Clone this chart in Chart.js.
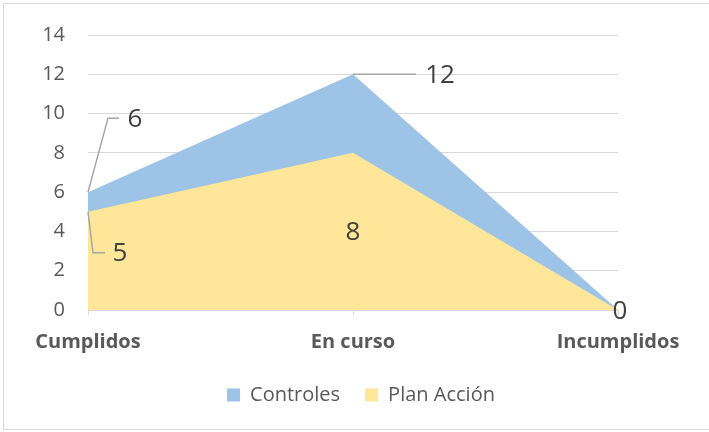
<!DOCTYPE html>
<html>
<head>
<meta charset="utf-8">
<script src="https://cdn.jsdelivr.net/npm/chart.js@4.4.1/dist/chart.umd.min.js"></script>
<style>
  html, body { margin: 0; padding: 0; background: #fff; }
  #wrap { position: relative; width: 709px; height: 432px; }
</style>
</head>
<body>
<div id="wrap"><canvas id="chart" width="709" height="432"></canvas></div>
<script>
// Data
const categories = ['Cumplidos', 'En curso', 'Incumplidos'];
const controles = [6, 12, 0];
const planAccion = [5, 8, 0];
const yTicks = [0, 2, 4, 6, 8, 10, 12, 14];

const FONT = "'Open Sans', sans-serif";
const TEXT = '#595959';

// label placement relative to the point: [dx, dy, leader?]
const controlesLabels = [
  { dx: 47, dy: -73, leader: [[20, -74], [31, -74]] },
  { dx: 87, dy: 1, leader: [[63, 0]] },
  { dx: 2, dy: 2, leader: null }
];
const planLabels = [
  { dx: 32, dy: 42, leader: [[5, 41], [17, 41]] },
  { dx: 0, dy: 80, leader: null },
  null
];

// Frame around the whole picture
const framePlugin = {
  id: 'frame',
  beforeDraw(chart) {
    const c = chart.ctx;
    c.save();
    c.strokeStyle = '#d9d9d9';
    c.lineWidth = 1;
    c.strokeRect(3.5, 3.5, chart.width + 10, chart.height - 2.5 - 3.5);
    c.restore();
  }
};

// legend in the original sits a bit right of the canvas centre
const legendShift = {
  id: 'legendShift',
  afterLayout(chart) {
    chart.legend.left += 52;
    chart.legend.right += 52;
  }
};

// Data labels with leader lines
const labelPlugin = {
  id: 'valueLabels',
  afterDatasetsDraw(chart) {
    const c = chart.ctx;
    const sets = [controlesLabels, planLabels];
    c.save();
    c.font = '26px ' + FONT;
    c.fillStyle = '#404040';
    c.textAlign = 'center';
    c.textBaseline = 'middle';
    chart.data.datasets.forEach((ds, di) => {
      const meta = chart.getDatasetMeta(di);
      meta.data.forEach((pt, i) => {
        const cfg = sets[di][i];
        if (!cfg) return;
        if (cfg.leader) {
          c.strokeStyle = '#a6a6a6';
          c.lineWidth = 1.5;
          c.beginPath();
          c.moveTo(pt.x, pt.y);
          cfg.leader.forEach(p => c.lineTo(pt.x + p[0], pt.y + p[1]));
          c.stroke();
        }
        c.fillText(String(ds.data[i]), pt.x + cfg.dx, pt.y + cfg.dy);
      });
    });
    c.restore();
  }
};

new Chart(document.getElementById('chart'), {
  type: 'line',
  data: {
    labels: categories,
    datasets: [
      {
        label: 'Controles',
        data: controles,
        backgroundColor: '#9dc3e6',
        borderColor: '#9dc3e6',
        borderWidth: 0,
        pointRadius: 0,
        fill: 'origin',
        tension: 0,
        order: 1
      },
      {
        label: 'Plan Acción',
        data: planAccion,
        backgroundColor: '#ffe699',
        borderColor: '#ffe699',
        borderWidth: 0,
        pointRadius: 0,
        fill: 'origin',
        tension: 0,
        order: 0
      }
    ]
  },
  options: {
    responsive: false,
    animation: false,
    layout: { padding: { left: 0, right: 91, top: 33, bottom: 17 } },
    plugins: {
      tooltip: { enabled: false },
      legend: {
        position: 'bottom',
        labels: {
          sort: (a, b) => a.datasetIndex - b.datasetIndex,
          boxWidth: 13,
          boxHeight: 13,
          padding: 25,
          color: TEXT,
          font: { family: FONT, size: 20 }
        }
      }
    },
    scales: {
      x: {
        offset: false,
        grid: { display: true, drawOnChartArea: false, drawTicks: true, tickLength: 5, color: '#d9d9d9' },
        border: { color: '#d9d9d9', width: 1 },
        ticks: {
          color: TEXT,
          padding: 15,
          maxRotation: 0,
          font: { family: FONT, size: 20, weight: 'bold' }
        },
        afterFit(scale) { scale.height = 50; }
      },
      y: {
        min: 0,
        max: 14,
        afterBuildTicks(scale) { scale.ticks = yTicks.map(v => ({ value: v })); },
        grid: { color: '#d9d9d9', drawTicks: false },
        border: { display: false },
        ticks: {
          color: TEXT,
          padding: 23,
          font: { family: FONT, size: 20 }
        },
        afterFit(scale) { scale.width = 88; }
      }
    }
  },
  plugins: [framePlugin, legendShift, labelPlugin]
});
</script>
</body>
</html>
